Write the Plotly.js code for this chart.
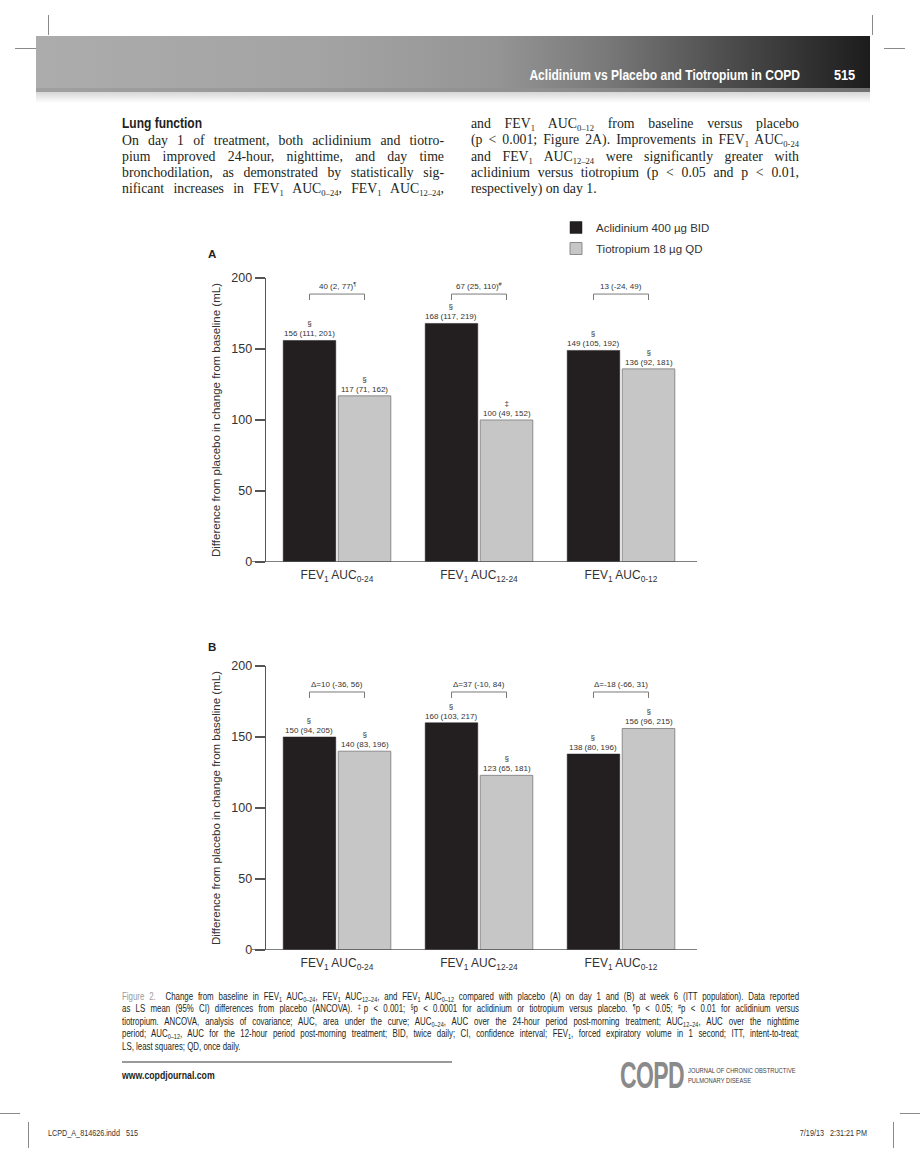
<!DOCTYPE html>
<html><head><meta charset="utf-8">
<script src="https://cdn.plot.ly/plotly-3.0.1.min.js"></script>
<style>
html,body{margin:0;padding:0;background:#fff;}
#page{position:relative;width:920px;height:1163px;overflow:hidden;background:#fff;}
.abs{position:absolute;}
#chart{position:absolute;left:0;top:0;width:920px;height:1163px;z-index:2;}
.ln{position:absolute;background:#8a8a8a;}
.serif{font-family:"Liberation Serif","Times New Roman",serif;color:#231f20;font-size:13.8px;line-height:16.25px;}
.serif div{text-align:justify;text-align-last:justify;height:16.25px;white-space:nowrap;}
.serif div.last{text-align:left;text-align-last:left;}
.serif sub{font-size:0.62em;vertical-align:-0.3em;line-height:0;}
.cond{font-family:"Liberation Sans",Arial,sans-serif;white-space:nowrap;}
#cap{left:122px;top:990.5px;width:868px;transform:scaleX(0.78);transform-origin:left top;font-size:10.1px;line-height:12.5px;color:#231f20;}
#cap div{text-align:justify;text-align-last:justify;height:12.5px;white-space:nowrap;}
#cap div.last{text-align:left;text-align-last:left;}
#cap sub{font-size:0.7em;vertical-align:-0.25em;line-height:0;}
#cap sup{font-size:0.7em;vertical-align:0.45em;line-height:0;}
</style>
</head><body>
<div id="page">
  <!-- crop marks -->
  <div class="ln" style="left:48px;top:15px;width:1px;height:20px;"></div>
  <div class="ln" style="left:15px;top:48px;width:21px;height:1px;"></div>
  <div class="ln" style="left:872px;top:15px;width:1px;height:20px;"></div>
  <div class="ln" style="left:884px;top:48px;width:21px;height:1px;"></div>
  <div class="ln" style="left:0px;top:1113px;width:20px;height:1px;"></div>
  <div class="ln" style="left:900px;top:1113px;width:20px;height:1px;"></div>
  <div class="ln" style="left:28px;top:1122px;width:1px;height:26px;"></div>
  <div class="ln" style="left:893px;top:1122px;width:1px;height:26px;"></div>

  <!-- header band -->
  <div class="abs" style="left:36px;top:36px;width:834px;height:52px;background:linear-gradient(to right,#acacac 0%,#a3a3a3 35%,#959595 55%,#7a7a7a 68%,#4a4a4a 84%,#1c1c1c 100%);"></div>
  <div class="abs" style="left:36px;top:88px;width:834px;height:4px;background:linear-gradient(to right,#a0a0a0,#909090 60%,#707070);"></div>
  <div class="abs" style="left:36px;top:92px;width:834px;height:11px;background:linear-gradient(to bottom,#d6d6d6,#ffffff);"></div>
  <div class="abs cond" style="right:120px;top:67px;font-size:14.5px;line-height:16px;font-weight:bold;color:#fff;transform:scaleX(0.83);transform-origin:right center;">Aclidinium vs Placebo and Tiotropium in COPD</div>
  <div class="abs cond" style="right:65px;top:67px;font-size:14.5px;line-height:16px;font-weight:bold;color:#fff;transform:scaleX(0.88);transform-origin:right center;">515</div>

  <!-- body text -->
  <div class="abs cond" style="left:122px;top:116px;font-size:13.8px;line-height:16px;font-weight:bold;color:#231f20;transform:scaleX(0.87);transform-origin:left center;">Lung function</div>
  <div class="abs serif" style="left:122px;top:132.5px;width:322px;">
    <div>On day 1 of treatment, both aclidinium and tiotro-</div>
    <div>pium improved 24-hour, nighttime, and day time</div>
    <div>bronchodilation, as demonstrated by statistically sig-</div>
    <div>nificant increases in FEV<sub>1</sub> AUC<sub>0–24</sub>, FEV<sub>1</sub> AUC<sub>12–24</sub>,</div>
  </div>
  <div class="abs serif" style="left:471px;top:116px;width:328px;">
    <div>and FEV<sub>1</sub> AUC<sub>0–12</sub> from baseline versus placebo</div>
    <div>(p &lt; 0.001; Figure 2A). Improvements in FEV<sub>1</sub> AUC<sub>0-24</sub></div>
    <div>and FEV<sub>1</sub> AUC<sub>12–24</sub> were significantly greater with</div>
    <div>aclidinium versus tiotropium (p &lt; 0.05 and p &lt; 0.01,</div>
    <div class="last">respectively) on day 1.</div>
  </div>

  <!-- caption -->
  <div id="cap" class="abs cond">
    <div><span style="color:#9a9a9a;">Figure 2.</span>&nbsp; Change from baseline in FEV<sub>1</sub> AUC<sub>0–24</sub>, FEV<sub>1</sub> AUC<sub>12–24</sub>, and FEV<sub>1</sub> AUC<sub>0–12</sub> compared with placebo (A) on day 1 and (B) at week 6 (ITT population). Data reported</div>
    <div>as LS mean (95% CI) differences from placebo (ANCOVA). <sup>‡</sup>p &lt; 0.001; <sup>§</sup>p &lt; 0.0001 for aclidinium or tiotropium versus placebo. <sup>¶</sup>p &lt; 0.05; <sup>#</sup>p &lt; 0.01 for aclidinium versus</div>
    <div>tiotropium. ANCOVA, analysis of covariance; AUC, area under the curve; AUC<sub>0–24</sub>, AUC over the 24-hour period post-morning treatment; AUC<sub>12–24</sub>, AUC over the nighttime</div>
    <div>period; AUC<sub>0–12</sub>, AUC for the 12-hour period post-morning treatment; BID, twice daily; CI, confidence interval; FEV<sub>1</sub>, forced expiratory volume in 1 second; ITT, intent-to-treat;</div>
    <div class="last">LS, least squares; QD, once daily.</div>
  </div>

  <!-- footer -->
  <div class="abs" style="left:122px;top:1061px;width:330px;height:1.5px;background:#9a9a9a;"></div>
  <div class="abs cond" style="left:122px;top:1069px;font-size:10.5px;line-height:12px;font-weight:bold;color:#231f20;transform:scaleX(0.83);transform-origin:left center;">www.copdjournal.com</div>
  <div class="abs cond" style="left:620px;top:1058px;font-size:36px;line-height:36px;font-weight:bold;color:#8a8a8a;transform:scaleX(0.64);transform-origin:left top;letter-spacing:-1px;">COPD</div>
  <div class="abs cond" style="left:688px;top:1066px;font-size:7.5px;line-height:10px;color:#444;transform:scaleX(0.77);transform-origin:left top;">JOURNAL OF CHRONIC OBSTRUCTIVE<br>PULMONARY DISEASE</div>
  <div class="abs cond" style="left:48px;top:1128px;font-size:8.5px;line-height:10px;color:#333;transform:scaleX(0.85);transform-origin:left top;">LCPD_A_814626.indd&nbsp;&nbsp; 515</div>
  <div class="abs cond" style="right:53px;top:1128px;font-size:8.5px;line-height:10px;color:#333;transform:scaleX(0.85);transform-origin:right top;">7/19/13&nbsp;&nbsp; 2:31:21 PM</div>

  <div id="chart"></div>
</div>
<script>
// ---------- data ----------
const categories = ['FEV1 AUC0-24', 'FEV1 AUC12-24', 'FEV1 AUC0-12'];
const categoryLabels = ['FEV<sub>1</sub> AUC<sub>0-24</sub>', 'FEV<sub>1</sub> AUC<sub>12-24</sub>', 'FEV<sub>1</sub> AUC<sub>0-12</sub>'];
const seriesNames = ['Aclidinium 400 µg BID', 'Tiotropium 18 µg QD'];
const yTicks = [0, 50, 100, 150, 200];

// Panel A: day 1
const aclidA = [156, 168, 149];
const aclidA_lo = [111, 117, 105];
const aclidA_hi = [201, 219, 192];
const aclidA_sig = ['§', '§', '§'];
const tiotA = [117, 100, 136];
const tiotA_lo = [71, 49, 92];
const tiotA_hi = [162, 152, 181];
const tiotA_sig = ['§', '‡', '§'];
const diffA = [40, 67, 13];
const diffA_lo = [2, 25, -24];
const diffA_hi = [77, 110, 49];
const diffA_sig = ['¶', '#', ''];

// Panel B: week 6
const aclidB = [150, 160, 138];
const aclidB_lo = [94, 103, 80];
const aclidB_hi = [205, 217, 196];
const aclidB_sig = ['§', '§', '§'];
const tiotB = [140, 123, 156];
const tiotB_lo = [83, 65, 96];
const tiotB_hi = [196, 181, 215];
const tiotB_sig = ['§', '§', '§'];
const diffB = [10, 37, -18];
const diffB_lo = [-36, -10, -66];
const diffB_hi = [56, 84, 31];

// ---------- style / layout ----------
const W = 920, H = 1163;
const BLACK = '#231f20', GRAY = '#c6c6c6', TXT = '#333333', AX = '#555555';
const FONT = 'Liberation Sans, Arial, sans-serif';
const bargap = 0.225;
const off = (1 - bargap) / 4;
const px = v => v / W;
const py = v => 1 - v / H;

const traces = [
  {type:'bar', x:categories, y:aclidA, name:seriesNames[0], xaxis:'x', yaxis:'y', legendgroup:'a',
   marker:{color:BLACK, line:{color:BLACK, width:0.5}}, hoverinfo:'skip'},
  {type:'bar', x:categories, y:tiotA, name:seriesNames[1], xaxis:'x', yaxis:'y', legendgroup:'t',
   marker:{color:GRAY, line:{color:'#8c8c8c', width:1}}, hoverinfo:'skip'},
  {type:'bar', x:categories, y:aclidB, name:seriesNames[0], xaxis:'x2', yaxis:'y2', showlegend:false,
   marker:{color:BLACK, line:{color:BLACK, width:0.5}}, hoverinfo:'skip'},
  {type:'bar', x:categories, y:tiotB, name:seriesNames[1], xaxis:'x2', yaxis:'y2', showlegend:false,
   marker:{color:GRAY, line:{color:'#8c8c8c', width:1}}, hoverinfo:'skip'}
];

const annotations = [];
const shapes = [];
const small = {family:FONT, size:8, color:TXT};

function panel(xr, yr, ac, acLo, acHi, acSig, ti, tiLo, tiHi, tiSig, dText, yb) {
  for (let i = 0; i < categories.length; i++) {
    annotations.push({xref:xr, yref:yr, x:i - off, y:ac[i], yanchor:'bottom', yshift:0, showarrow:false,
      text: acSig[i] + '<br>' + ac[i] + ' (' + acLo[i] + ', ' + acHi[i] + ')', font:small});
    annotations.push({xref:xr, yref:yr, x:i + off, y:ti[i], yanchor:'bottom', yshift:0, showarrow:false,
      text: tiSig[i] + '<br>' + ti[i] + ' (' + tiLo[i] + ', ' + tiHi[i] + ')', font:small});
    annotations.push({xref:xr, yref:yr, x:i, y:yb, yanchor:'bottom', yshift:1, showarrow:false,
      text: dText[i], font:small});
    const lc = {color:'#7a7a7a', width:1};
    shapes.push({type:'line', xref:xr, yref:yr, x0:i - off, x1:i + off, y0:yb, y1:yb, line:lc});
    shapes.push({type:'line', xref:xr, yref:yr, x0:i - off, x1:i - off, y0:yb, y1:yb - 4.2, line:lc});
    shapes.push({type:'line', xref:xr, yref:yr, x0:i + off, x1:i + off, y0:yb, y1:yb - 4.2, line:lc});
  }
  // x axis baseline extending left of y axis
  shapes.push({type:'line', xref:'paper', yref:yr, x0:px(252), x1:px(697), y0:0, y1:0, line:{color:AX, width:1.3}});
}

const dTextA = diffA.map((d, i) => d + ' (' + diffA_lo[i] + ', ' + diffA_hi[i] + ')' + (diffA_sig[i] ? '<sup>' + diffA_sig[i] + '</sup>' : ''));
const dTextB = diffB.map((d, i) => 'Δ=' + d + ' (' + diffB_lo[i] + ', ' + diffB_hi[i] + ')');

panel('x', 'y', aclidA, aclidA_lo, aclidA_hi, aclidA_sig, tiotA, tiotA_lo, tiotA_hi, tiotA_sig, dTextA, 188.7);
panel('x2', 'y2', aclidB, aclidB_lo, aclidB_hi, aclidB_sig, tiotB, tiotB_lo, tiotB_hi, tiotB_sig, dTextB, 181.7);

annotations.push({xref:'paper', yref:'paper', x:px(206), y:py(254), xanchor:'left', yanchor:'middle', showarrow:false,
  text:'<b>A</b>', font:{family:FONT, size:11.5, color:'#231f20'}});
annotations.push({xref:'paper', yref:'paper', x:px(206), y:py(647), xanchor:'left', yanchor:'middle', showarrow:false,
  text:'<b>B</b>', font:{family:FONT, size:11.5, color:'#231f20'}});

const yTitle = 'Difference from placebo in change from baseline (mL)';
function yaxis(dom) {
  return {domain:dom, range:[0, 200], tickvals:yTicks, ticks:'outside', ticklen:10, tickcolor:AX, tickwidth:1.3,
    showline:true, linecolor:AX, linewidth:1.3, showgrid:false, zeroline:false, fixedrange:true, automargin:false,
    tickfont:{family:FONT, size:12.5, color:TXT},
    title:{text:yTitle, standoff:8, font:{family:FONT, size:11.5, color:TXT}}};
}
function xaxis(anchor) {
  return {domain:[px(266), px(692)], anchor:anchor, type:'category', range:[-0.5, 2.5], tickvals:categories, ticktext:categoryLabels,
    ticks:'', showline:false, showgrid:false, zeroline:false, fixedrange:true, automargin:false, ticklabelstandoff:4,
    tickfont:{family:FONT, size:12, color:TXT}};
}

const layout = {
  width:W, height:H, margin:{l:0, r:0, t:0, b:0},
  paper_bgcolor:'rgba(0,0,0,0)', plot_bgcolor:'rgba(0,0,0,0)',
  font:{family:FONT, color:TXT},
  barmode:'group', bargap:bargap, bargroupgap:0.045,
  xaxis:xaxis('y'), yaxis:yaxis([py(562), py(278)]),
  xaxis2:xaxis('y2'), yaxis2:yaxis([py(950), py(666)]),
  showlegend:true,
  legend:{x:px(556), y:py(213), xanchor:'left', yanchor:'top', bgcolor:'rgba(0,0,0,0)', borderwidth:0,
    tracegroupgap:2, font:{family:FONT, size:11.5, color:TXT}},
  annotations:annotations, shapes:shapes
};

Plotly.newPlot('chart', traces, layout, {displayModeBar:false, staticPlot:true});
</script>
</body></html>
